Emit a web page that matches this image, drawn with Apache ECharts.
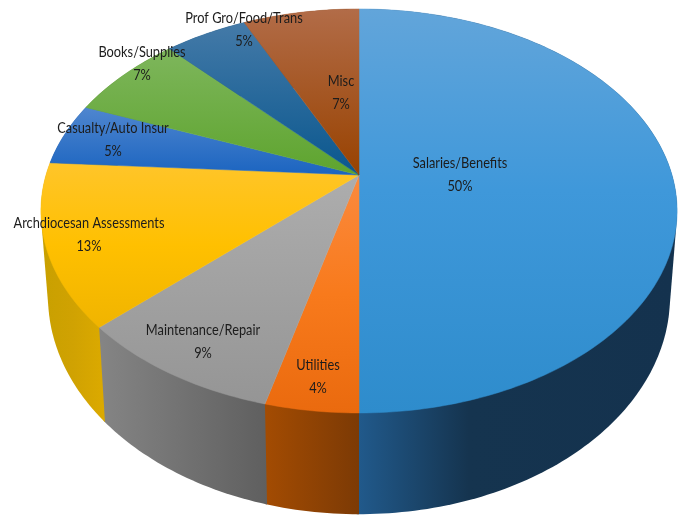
<!DOCTYPE html>
<html>
<head>
<meta charset="utf-8">
<style>html,body{margin:0;padding:0;background:#fff}#c{width:685px;height:515px}</style>
<script src="https://cdn.jsdelivr.net/npm/echarts@6/dist/echarts.min.js"></script>
</head>
<body>
<div id="c"></div>
<script>
var categories = ['Salaries/Benefits','Utilities','Maintenance/Repair','Archdiocesan Assessments','Casualty/Auto Insur','Books/Supplies','Prof Gro/Food/Trans','Misc'];
var values = [50,4,9,13,5,7,5,7];

var topColors = [
  [[0,'#62a5da'],[0.45,'#3f98da'],[1,'#2e8ccc']],
  [[0,'#fb8a3e'],[0.5,'#f87a1c'],[1,'#ea6a0e']],
  [[0,'#adadad'],[1,'#959595']],
  [[0,'#ffc52a'],[0.5,'#ffc000'],[1,'#f0b400']],
  [[0,'#4f86cf'],[1,'#1b64c0']],
  [[0,'#7eb65c'],[1,'#5ea42e']],
  [[0,'#447aa8'],[1,'#0a578e']],
  [[0,'#b26c48'],[1,'#984200']]
];
var wallColors = [
  [[0,'#215a8c'],[0.35,'#15344f'],[1,'#14324e']],
  [[0,'#a44c02'],[1,'#7c3a05']],
  [[0,'#858585'],[1,'#5f5f5f']],
  [[0,'#c8a000'],[0.5,'#d0a202'],[1,'#dcaa00']],
  [[0,'#164c8c'],[1,'#164c8c']],
  [[0,'#46781f'],[1,'#46781f']],
  [[0,'#0a3f66'],[1,'#0a3f66']],
  [[0,'#6e3000'],[1,'#6e3000']]
];
var labelCenters = [[460,174],[318,376],[203,341],[89,234],[113,139],[142,63],[244,29],[341,92]];

var persp = -0.178;
var rim = {cx:359, cy:175, rx:313, ry:195.6};
var base = {cx:359, cy:258, rx:306, ry:210.6};
var textScaleX = 0.8;

function project(disc, theta){
  var u = Math.sin(theta), v = -Math.cos(theta), w = 1 + persp*v;
  return [disc.cx + disc.rx*u/w, disc.cy + disc.ry*v/w];
}
function span(i){
  var total = values.reduce(function(a,b){return a+b;},0), before = 0;
  for(var k=0;k<i;k++) before += values[k];
  return [before/total*2*Math.PI, (before+values[i])/total*2*Math.PI];
}
function arc(disc, a, b){
  var pts = [], n = Math.max(2, Math.ceil((b-a)/(Math.PI/180)));
  for(var j=0;j<=n;j++) pts.push(project(disc, a+(b-a)*j/n));
  return pts;
}
function grad(stops){
  return new echarts.graphic.LinearGradient(0,0,0,1,
    stops.map(function(s){return {offset:s[0],color:s[1]};}));
}
function hull(points){
  var p = points.slice().sort(function(a,b){return a[0]-b[0]||a[1]-b[1];});
  function cross(o,a,b){return (a[0]-o[0])*(b[1]-o[1])-(a[1]-o[1])*(b[0]-o[0]);}
  function half(list){
    var h = [];
    list.forEach(function(q){
      while(h.length>=2 && cross(h[h.length-2],h[h.length-1],q)<=0) h.pop();
      h.push(q);
    });
    h.pop();
    return h;
  }
  return half(p).concat(half(p.slice().reverse()));
}
function renderWall(params){
  var i = params.dataIndex, s = span(i);
  var pts = hull(arc(rim,s[0],s[1]+0.006).concat(arc(base,s[0],s[1]+0.006)));
  var c = new echarts.graphic.LinearGradient(0,0,1,0,
    wallColors[i].map(function(k){return {offset:k[0],color:k[1]};}));
  return {type:'polygon', shape:{points:pts}, style:{fill:c}};
}
function renderTop(params){
  var i = params.dataIndex, s = span(i);
  var pts = [[rim.cx,rim.cy]].concat(arc(rim,s[0],s[1]));
  var c = grad(topColors[i]);
  return {type:'polygon', shape:{points:pts}, style:{fill:c, stroke:c, lineWidth:0.5}};
}
function renderLabel(params){
  var i = params.dataIndex, total = values.reduce(function(a,b){return a+b;},0);
  return {type:'text', x:labelCenters[i][0], y:labelCenters[i][1], scaleX:textScaleX, style:{
    x:0, y:0,
    text:categories[i]+'\n'+Math.round(values[i]/total*100)+'%',
    align:'center', verticalAlign:'middle', lineHeight:23,
    fontFamily:'Lato,"Liberation Sans",sans-serif', fontSize:16, fill:'#1c1c1c'
  }};
}
var rows = values.map(function(v,i){return [i,v];});
var chart = echarts.init(document.getElementById('c'), null, {renderer:'canvas'});
chart.setOption({
  animation:false,
  backgroundColor:'#ffffff',
  series:[
    {type:'custom', coordinateSystem:'none', z:1, silent:true, renderItem:renderWall, data:rows},
    {type:'custom', coordinateSystem:'none', z:2, silent:true, renderItem:renderTop, data:rows},
    {type:'custom', coordinateSystem:'none', z:3, silent:true, renderItem:renderLabel, data:rows}
  ]
});
</script>
</body>
</html>
